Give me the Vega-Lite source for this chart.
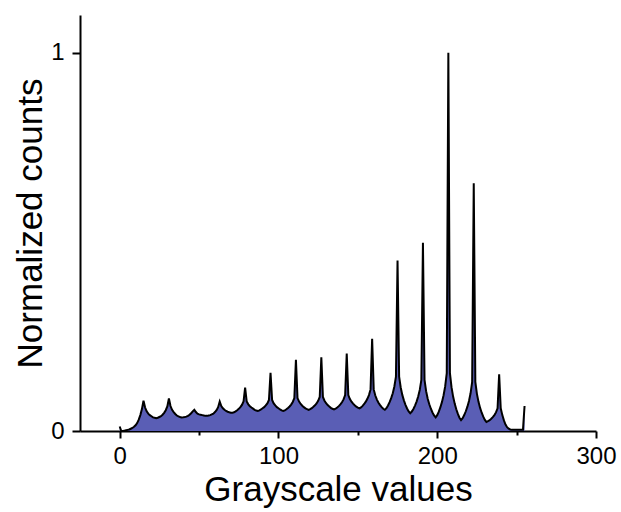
{
  "$schema": "https://vega.github.io/schema/vega-lite/v6.json",
  "width": 516,
  "height": 416,
  "autosize": {"type": "none"},
  "padding": {"left": 80, "top": 15, "right": 25, "bottom": 81},
  "background": "white",
  "config": {
    "view": {"stroke": null},
    "font": "Liberation Sans",
    "axis": {
      "grid": false,
      "domainColor": "black",
      "domainWidth": 2,
      "tickColor": "black",
      "tickWidth": 2,
      "labelColor": "black",
      "labelFontSize": 24,
      "labelFlush": false,
      "labelOverlap": false,
      "labelBound": false,
      "titleColor": "black",
      "titleFontSize": 35,
      "titleFontWeight": "normal"
    }
  },
  "data": {
    "values": [
      {"g": 0, "n": 0.012}, {"g": 1, "n": 0}, {"g": 2, "n": 0}, {"g": 3, "n": 0.001}, {"g": 4, "n": 0.002},
      {"g": 5, "n": 0.003}, {"g": 6, "n": 0.004}, {"g": 7, "n": 0.006}, {"g": 8, "n": 0.008}, {"g": 9, "n": 0.011},
      {"g": 10, "n": 0.015}, {"g": 11, "n": 0.021}, {"g": 12, "n": 0.030}, {"g": 13, "n": 0.042}, {"g": 14, "n": 0.058},
      {"g": 15, "n": 0.080}, {"g": 16, "n": 0.062}, {"g": 17, "n": 0.052}, {"g": 18, "n": 0.046}, {"g": 19, "n": 0.042},
      {"g": 20, "n": 0.039}, {"g": 21, "n": 0.036}, {"g": 22, "n": 0.035}, {"g": 23, "n": 0.034}, {"g": 24, "n": 0.035},
      {"g": 25, "n": 0.037}, {"g": 26, "n": 0.039}, {"g": 27, "n": 0.043}, {"g": 28, "n": 0.048}, {"g": 29, "n": 0.055},
      {"g": 30, "n": 0.065}, {"g": 31, "n": 0.086}, {"g": 32, "n": 0.066}, {"g": 33, "n": 0.056}, {"g": 34, "n": 0.050},
      {"g": 35, "n": 0.045}, {"g": 36, "n": 0.041}, {"g": 37, "n": 0.0385}, {"g": 38, "n": 0.037}, {"g": 39, "n": 0.036},
      {"g": 40, "n": 0.0364}, {"g": 41, "n": 0.037}, {"g": 42, "n": 0.038}, {"g": 43, "n": 0.040}, {"g": 44, "n": 0.043},
      {"g": 45, "n": 0.047}, {"g": 46, "n": 0.052}, {"g": 47, "n": 0.056}, {"g": 48, "n": 0.050}, {"g": 49, "n": 0.046},
      {"g": 50, "n": 0.044}, {"g": 51, "n": 0.043}, {"g": 52, "n": 0.042}, {"g": 53, "n": 0.041}, {"g": 54, "n": 0.040},
      {"g": 55, "n": 0.040}, {"g": 56, "n": 0.041}, {"g": 57, "n": 0.042}, {"g": 58, "n": 0.044}, {"g": 59, "n": 0.046},
      {"g": 60, "n": 0.050}, {"g": 61, "n": 0.055}, {"g": 62, "n": 0.063}, {"g": 63, "n": 0.078}, {"g": 64, "n": 0.066},
      {"g": 65, "n": 0.060}, {"g": 66, "n": 0.056}, {"g": 67, "n": 0.053}, {"g": 68, "n": 0.051}, {"g": 69, "n": 0.0495},
      {"g": 70, "n": 0.0485}, {"g": 71, "n": 0.048}, {"g": 72, "n": 0.0495}, {"g": 73, "n": 0.052}, {"g": 74, "n": 0.055},
      {"g": 75, "n": 0.0585}, {"g": 76, "n": 0.063}, {"g": 77, "n": 0.069}, {"g": 78, "n": 0.078}, {"g": 79, "n": 0.115},
      {"g": 80, "n": 0.078}, {"g": 81, "n": 0.0705}, {"g": 82, "n": 0.0655}, {"g": 83, "n": 0.062}, {"g": 84, "n": 0.059},
      {"g": 85, "n": 0.056}, {"g": 86, "n": 0.054}, {"g": 87, "n": 0.053}, {"g": 88, "n": 0.0545}, {"g": 89, "n": 0.057},
      {"g": 90, "n": 0.060}, {"g": 91, "n": 0.063}, {"g": 92, "n": 0.0675}, {"g": 93, "n": 0.073}, {"g": 94, "n": 0.082},
      {"g": 95, "n": 0.154}, {"g": 96, "n": 0.082}, {"g": 97, "n": 0.073}, {"g": 98, "n": 0.0675}, {"g": 99, "n": 0.063},
      {"g": 100, "n": 0.060}, {"g": 101, "n": 0.057}, {"g": 102, "n": 0.0545}, {"g": 103, "n": 0.053}, {"g": 104, "n": 0.0547},
      {"g": 105, "n": 0.0574}, {"g": 106, "n": 0.061}, {"g": 107, "n": 0.0649}, {"g": 108, "n": 0.0699}, {"g": 109, "n": 0.0768},
      {"g": 110, "n": 0.087}, {"g": 111, "n": 0.188}, {"g": 112, "n": 0.087}, {"g": 113, "n": 0.0777}, {"g": 114, "n": 0.0715},
      {"g": 115, "n": 0.0669}, {"g": 116, "n": 0.0631}, {"g": 117, "n": 0.060}, {"g": 118, "n": 0.0576}, {"g": 119, "n": 0.056},
      {"g": 120, "n": 0.0577}, {"g": 121, "n": 0.0604}, {"g": 122, "n": 0.064}, {"g": 123, "n": 0.0679}, {"g": 124, "n": 0.0729},
      {"g": 125, "n": 0.0798}, {"g": 126, "n": 0.090}, {"g": 127, "n": 0.195}, {"g": 128, "n": 0.090}, {"g": 129, "n": 0.0801},
      {"g": 130, "n": 0.0735}, {"g": 131, "n": 0.0686}, {"g": 132, "n": 0.0646}, {"g": 133, "n": 0.0613}, {"g": 134, "n": 0.0587},
      {"g": 135, "n": 0.057}, {"g": 136, "n": 0.0589}, {"g": 137, "n": 0.0619}, {"g": 138, "n": 0.0657}, {"g": 139, "n": 0.0703},
      {"g": 140, "n": 0.076}, {"g": 141, "n": 0.0836}, {"g": 142, "n": 0.095}, {"g": 143, "n": 0.205}, {"g": 144, "n": 0.095},
      {"g": 145, "n": 0.0845}, {"g": 146, "n": 0.0775}, {"g": 147, "n": 0.0723}, {"g": 148, "n": 0.068}, {"g": 149, "n": 0.0646},
      {"g": 150, "n": 0.0618}, {"g": 151, "n": 0.060}, {"g": 152, "n": 0.0625}, {"g": 153, "n": 0.0665}, {"g": 154, "n": 0.0715},
      {"g": 155, "n": 0.0775}, {"g": 156, "n": 0.085}, {"g": 157, "n": 0.095}, {"g": 158, "n": 0.110}, {"g": 159, "n": 0.244},
      {"g": 160, "n": 0.110}, {"g": 161, "n": 0.0938}, {"g": 162, "n": 0.083}, {"g": 163, "n": 0.0749}, {"g": 164, "n": 0.0684},
      {"g": 165, "n": 0.063}, {"g": 166, "n": 0.0587}, {"g": 167, "n": 0.056}, {"g": 168, "n": 0.0604}, {"g": 169, "n": 0.0674},
      {"g": 170, "n": 0.0762}, {"g": 171, "n": 0.0868}, {"g": 172, "n": 0.100}, {"g": 173, "n": 0.1176}, {"g": 174, "n": 0.144},
      {"g": 175, "n": 0.451}, {"g": 176, "n": 0.144}, {"g": 177, "n": 0.115}, {"g": 178, "n": 0.0955}, {"g": 179, "n": 0.081},
      {"g": 180, "n": 0.0693}, {"g": 181, "n": 0.0596}, {"g": 182, "n": 0.0519}, {"g": 183, "n": 0.047}, {"g": 184, "n": 0.0514},
      {"g": 185, "n": 0.0584}, {"g": 186, "n": 0.0672}, {"g": 187, "n": 0.0778}, {"g": 188, "n": 0.091}, {"g": 189, "n": 0.1086},
      {"g": 190, "n": 0.135}, {"g": 191, "n": 0.498}, {"g": 192, "n": 0.135}, {"g": 193, "n": 0.1053}, {"g": 194, "n": 0.0855},
      {"g": 195, "n": 0.0707}, {"g": 196, "n": 0.0588}, {"g": 197, "n": 0.0489}, {"g": 198, "n": 0.041}, {"g": 199, "n": 0.036},
      {"g": 200, "n": 0.0419}, {"g": 201, "n": 0.0512}, {"g": 202, "n": 0.063}, {"g": 203, "n": 0.077}, {"g": 204, "n": 0.0945},
      {"g": 205, "n": 0.1179}, {"g": 206, "n": 0.153}, {"g": 207, "n": 1.0}, {"g": 208, "n": 0.153}, {"g": 209, "n": 0.1158},
      {"g": 210, "n": 0.091}, {"g": 211, "n": 0.0724}, {"g": 212, "n": 0.0575}, {"g": 213, "n": 0.0451}, {"g": 214, "n": 0.0352},
      {"g": 215, "n": 0.029}, {"g": 216, "n": 0.034}, {"g": 217, "n": 0.0421}, {"g": 218, "n": 0.0522}, {"g": 219, "n": 0.0644},
      {"g": 220, "n": 0.0795}, {"g": 221, "n": 0.0997}, {"g": 222, "n": 0.130}, {"g": 223, "n": 0.655}, {"g": 224, "n": 0.130},
      {"g": 225, "n": 0.0982}, {"g": 226, "n": 0.077}, {"g": 227, "n": 0.0611}, {"g": 228, "n": 0.0484}, {"g": 229, "n": 0.0378},
      {"g": 230, "n": 0.0293}, {"g": 231, "n": 0.024}, {"g": 232, "n": 0.0258}, {"g": 233, "n": 0.0287}, {"g": 234, "n": 0.0323},
      {"g": 235, "n": 0.0366}, {"g": 236, "n": 0.042}, {"g": 237, "n": 0.0492}, {"g": 238, "n": 0.060}, {"g": 239, "n": 0.150},
      {"g": 240, "n": 0.060}, {"g": 241, "n": 0.042}, {"g": 242, "n": 0.028}, {"g": 243, "n": 0.017}, {"g": 244, "n": 0.010},
      {"g": 245, "n": 0.006}, {"g": 246, "n": 0.004}, {"g": 247, "n": 0.003}, {"g": 248, "n": 0.003}, {"g": 249, "n": 0.003},
      {"g": 250, "n": 0.003}, {"g": 251, "n": 0.003}, {"g": 252, "n": 0.003}, {"g": 253, "n": 0.003}, {"g": 254, "n": 0.003},
      {"g": 255, "n": 0.066}
    ]
  },
  "encoding": {
    "x": {
      "field": "g",
      "type": "quantitative",
      "scale": {"domain": [-25, 300], "nice": false, "zero": false},
      "axis": {
        "title": "Grayscale values",
        "values": [0, 50, 100, 150, 200, 250, 300],
        "labelExpr": "datum.value % 100 === 0 ? datum.label : ''",
        "format": "d",
        "tickSize": {"condition": {"test": "datum.value % 100 !== 0", "value": 4}, "value": 7},
        "labelPadding": 6,
        "titleY": 69,
        "titleBaseline": "alphabetic"
      }
    },
    "y": {
      "field": "n",
      "type": "quantitative",
      "scale": {"domain": [0, 1.1], "nice": false},
      "axis": {
        "title": "Normalized counts",
        "values": [0, 0.5, 1],
        "labelExpr": "datum.value === 0.5 ? '' : datum.label",
        "format": "d",
        "tickSize": {"condition": {"test": "datum.value === 0.5", "value": 4}, "value": 8},
        "labelPadding": 8,
        "titleX": -50,
        "titleBaseline": "middle"
      }
    }
  },
  "layer": [
    {"mark": {"type": "area", "color": "#5a5eb5", "interpolate": "linear"}},
    {"mark": {"type": "line", "color": "black", "strokeWidth": 2, "interpolate": "linear"}}
  ]
}
